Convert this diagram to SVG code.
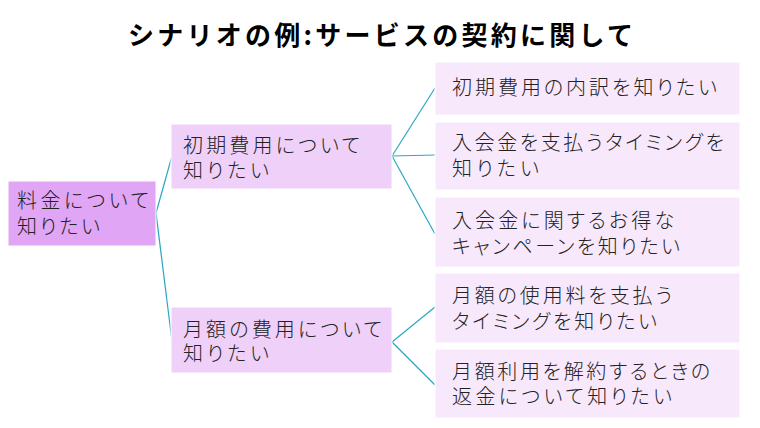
<svg xmlns="http://www.w3.org/2000/svg" width="760" height="428" viewBox="0 0 760 428">
<style>
.t{font-family:"Noto Sans CJK JP","Noto Sans CJK SC",sans-serif;font-size:20px;font-weight:300;fill:#222;font-feature-settings:"palt"}
.title{font-family:"Noto Sans CJK JP","Noto Sans CJK SC",sans-serif;font-size:26px;font-weight:bold;fill:#000}
.r{fill:#E0A5F5;stroke:#fff;stroke-width:1}
.l1{fill:#EFD0F9;stroke:#fff;stroke-width:1}
.l2{fill:#F8E8FC;stroke:#fff;stroke-width:1}
.c{fill:none;stroke:#2AA8C2;stroke-width:1.2}
</style>
<rect width="760" height="428" fill="#fff"/>
<text class="title" x="128" y="45" textLength="505" lengthAdjust="spacing">シナリオの例:サービスの契約に関して</text>
<g id="connectors">
<line class="c" x1="156" y1="213" x2="172" y2="156"/>
<line class="c" x1="156" y1="213" x2="172" y2="341"/>
<line class="c" x1="392" y1="156" x2="435" y2="88"/>
<line class="c" x1="392" y1="156" x2="435" y2="155"/>
<line class="c" x1="392" y1="156" x2="435" y2="234"/>
<line class="c" x1="392" y1="342" x2="435" y2="307"/>
<line class="c" x1="392" y1="342" x2="435" y2="385"/>
</g>
<g id="root">
<rect class="r" x="8" y="181" width="148" height="65"/>
<text class="t" x="17" y="208" textLength="132" lengthAdjust="spacing">料金について</text>
<text class="t" x="17" y="234" textLength="83" lengthAdjust="spacing">知りたい</text>
</g>
<g id="n1">
<rect class="l1" x="171" y="124" width="221" height="65"/>
<text class="t" x="183" y="153" textLength="177" lengthAdjust="spacing">初期費用について</text>
<text class="t" x="183" y="178" textLength="86" lengthAdjust="spacing">知りたい</text>
</g>
<g id="n2">
<rect class="l1" x="171" y="307" width="221" height="66"/>
<text class="t" x="183" y="337" textLength="199" lengthAdjust="spacing">月額の費用について</text>
<text class="t" x="183" y="361" textLength="86" lengthAdjust="spacing">知りたい</text>
</g>
<g id="n1a">
<rect class="l2" x="435" y="62" width="305" height="53"/>
<text class="t" x="452" y="95" textLength="265" lengthAdjust="spacing">初期費用の内訳を知りたい</text>
</g>
<g id="n1b">
<rect class="l2" x="435" y="122" width="305" height="68"/>
<text class="t" x="452" y="150" textLength="272" lengthAdjust="spacing">入会金を支払うタイミングを</text>
<text class="t" x="452" y="176" textLength="87" lengthAdjust="spacing">知りたい</text>
</g>
<g id="n1c">
<rect class="l2" x="435" y="197" width="305" height="70"/>
<text class="t" x="452" y="228" textLength="222" lengthAdjust="spacing">入会金に関するお得な</text>
<text class="t" x="452" y="254" textLength="228" lengthAdjust="spacing">キャンペーンを知りたい</text>
</g>
<g id="n2a">
<rect class="l2" x="435" y="273" width="305" height="70"/>
<text class="t" x="452" y="303" textLength="220" lengthAdjust="spacing">月額の使用料を支払う</text>
<text class="t" x="452" y="329" textLength="205" lengthAdjust="spacing">タイミングを知りたい</text>
</g>
<g id="n2b">
<rect class="l2" x="435" y="349" width="305" height="69"/>
<text class="t" x="452" y="379" textLength="258" lengthAdjust="spacing">月額利用を解約するときの</text>
<text class="t" x="452" y="404" textLength="220" lengthAdjust="spacing">返金について知りたい</text>
</g>
</svg>
